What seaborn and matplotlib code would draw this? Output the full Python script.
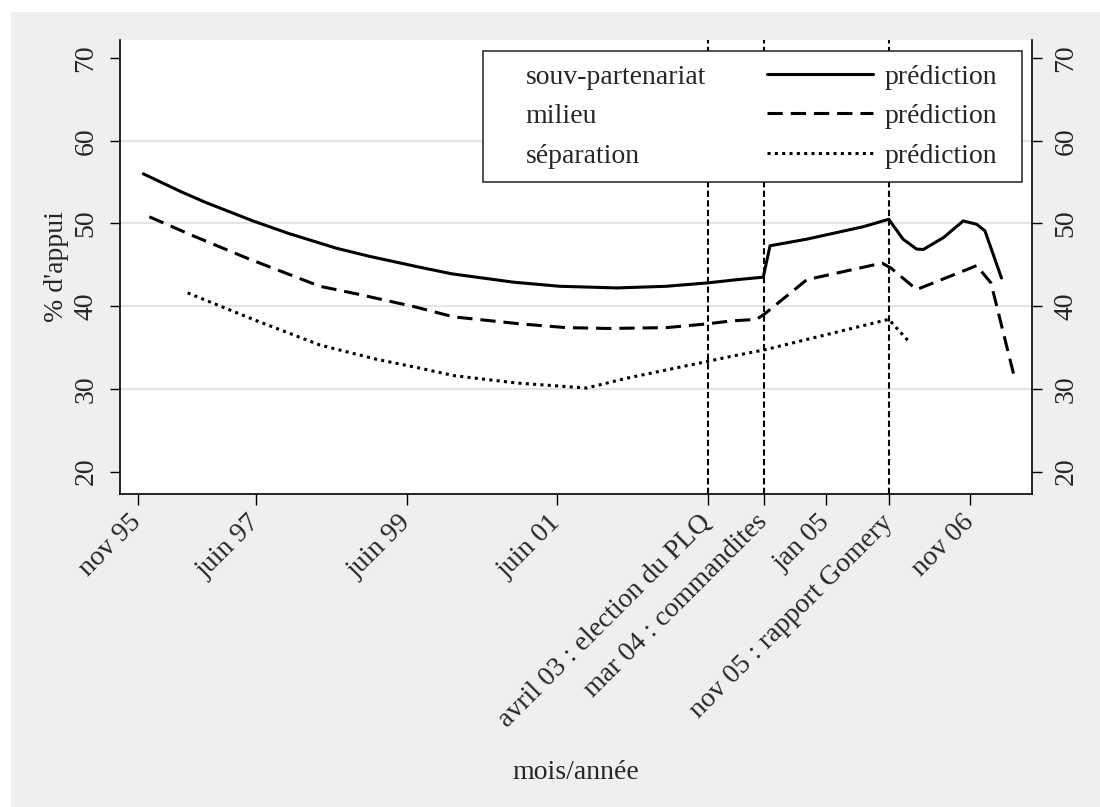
import numpy as np
import pandas as pd
import matplotlib
matplotlib.use("Agg")
import matplotlib.pyplot as plt
import seaborn as sns
from matplotlib.lines import Line2D
from matplotlib.patches import Rectangle
from matplotlib.offsetbox import DrawingArea

# ---------------- data (decimal years, % support) ----------------
souv_x = [1995.91, 1996.42, 1996.75, 1997.37, 1997.84, 1998.48, 1998.93, 1999.59,
          2000.02, 2000.83, 2001.45, 2002.21, 2002.87, 2003.41, 2003.81, 2004.16,
          2004.25, 2004.74, 2005.49, 2005.83, 2006.02, 2006.20, 2006.29, 2006.56,
          2006.82, 2007.00, 2007.11, 2007.33]
souv_y = [56.0, 53.8, 52.5, 50.3, 48.8, 47.0, 46.0, 44.7,
          43.9, 42.9, 42.4, 42.2, 42.4, 42.8, 43.2, 43.5,
          47.3, 48.1, 49.6, 50.5, 48.1, 46.9, 46.85, 48.3,
          50.3, 49.9, 49.1, 43.4]

milieu_x = [1995.99, 1996.60, 1997.29, 1998.26, 1998.79, 1999.53, 2000.04, 2000.93,
            2001.54, 2002.10, 2002.87, 2003.41, 2003.72, 2004.07, 2004.17, 2004.74,
            2005.74, 2005.86, 2006.20, 2007.00, 2007.19, 2007.51]
milieu_y = [50.8, 48.4, 45.8, 42.4, 41.4, 39.9, 38.7, 37.85,
            37.4, 37.3, 37.4, 37.85, 38.2, 38.4, 39.0, 43.2,
            45.2, 44.6, 42.0, 44.9, 42.8, 31.1]

sep_x = [1996.50, 1997.37, 1998.26, 1999.00, 1999.59, 2000.04, 2000.88, 2001.81,
         2002.35, 2003.41, 2003.72, 2004.17, 2005.83, 2006.10]
sep_y = [41.6, 38.4, 35.3, 33.6, 32.5, 31.6, 30.7, 30.1,
         31.3, 33.3, 33.9, 34.7, 38.4, 35.7]

series_names = ["souv-partenariat", "milieu", "séparation"]
pred_label = "prédiction"

event_x = [2003.42, 2004.165, 2005.83]

xtick_pos = [1995.833, 1997.415, 1999.417, 2001.418, 2003.42, 2004.165,
             2005.0, 2005.83, 2006.91]
xtick_labels = ["nov 95", "juin 97", "juin 99", "juin 01",
                "avril 03 : election du PLQ", "mar 04 : commandites",
                "jan 05", "nov 05 : rapport Gomery", "nov 06"]
ytick_vals = [20, 30, 40, 50, 60, 70]
grid_vals = [30, 40, 50, 60]

# ---------------- figure ----------------
sns.set_theme(style="white")
plt.rcParams["font.family"] = ["Liberation Serif", "DejaVu Serif"]

W, H = 1100, 807
fig = plt.figure(figsize=(W / 100, H / 100), dpi=100)
fig.patch.set_facecolor("white")
fig.patches.append(Rectangle((11 / W, 0), 1, (H - 12) / H, transform=fig.transFigure,
                             facecolor="#efefef", edgecolor="none", zorder=-10))

ax_l, ax_r, ax_t, ax_b = 120, 1032, 40, 493.6
ax = fig.add_axes([ax_l / W, 1 - ax_b / H, (ax_r - ax_l) / W, (ax_b - ax_t) / H])
ax.set_facecolor("white")

for g in grid_vals:
    ax.axhline(g, color="#e4e4e4", lw=1.6, zorder=0)

for ex in event_x:
    ax.axvline(ex, color="black", lw=1.5, linestyle=(0, (3, 1.6)), zorder=1)

LW = 2.2
styles = ["-", (0, (5, 2.6)), (0, (1, 1.4))]
data = [(souv_x, souv_y), (milieu_x, milieu_y), (sep_x, sep_y)]
for (xs, ys), ls in zip(data, styles):
    df = pd.DataFrame({"x": xs, "y": ys})
    sns.lineplot(data=df, x="x", y="y", ax=ax, color="black", lw=LW,
                 linestyle=ls, zorder=3, legend=False)

ax.set_xlim(1995.60, 2007.736)
ax.set_ylim(17.33, 72.18)

ax.set_xticks(xtick_pos)
ax.set_xticklabels(xtick_labels, rotation=45, ha="right", va="center",
                   rotation_mode="anchor", fontsize=20)
ax.tick_params(axis="x", length=8, width=1, pad=10, color="black", bottom=True)

ax.set_yticks(ytick_vals)
ax.tick_params(axis="y", which="major", left=True, right=True, labelleft=True,
               labelright=True, length=7.5, width=1, pad=8, labelsize=20,
               labelrotation=90, color="black")
for t in ax.yaxis.get_major_ticks():
    t.label1.set_va("center")
    t.label2.set_va("center")

for s in ["left", "bottom", "right"]:
    ax.spines[s].set_visible(True)
    ax.spines[s].set_color("black")
    ax.spines[s].set_linewidth(1.2)
ax.spines["top"].set_visible(False)

ax.set_ylabel("% d'appui", fontsize=20, labelpad=3)
ax.set_xlabel("mois/année", fontsize=20, labelpad=20)

# ---------------- legend ----------------
blank = [Line2D([], [], linestyle="none") for _ in series_names]
preds = [Line2D([], [], color="black", lw=LW, linestyle=ls) for ls in styles]
handles = blank + preds
labels = series_names + [pred_label] * 3
axw, axh = ax_r - ax_l, ax_b - ax_t
leg = ax.legend(handles, labels, ncol=2, loc="upper right",
                bbox_to_anchor=(1 - 10 / axw, 1 - 11 / axh), borderaxespad=0,
                frameon=True, fancybox=False, framealpha=1, edgecolor="#222222",
                fontsize=20, handlelength=3.8, handletextpad=0.46,
                columnspacing=2.2, labelspacing=0.51, borderpad=0.47)
leg.get_frame().set_linewidth(1.1)
leg.set_zorder(5)
cols = leg._legend_handle_box.get_children()
for item in cols[0].get_children():
    item.get_children()[0].width = 12
for item in cols[1].get_children():
    item.sep = 8.5
    item._children.append(DrawingArea(0, 0))

fig.savefig("out.png", dpi=100)
